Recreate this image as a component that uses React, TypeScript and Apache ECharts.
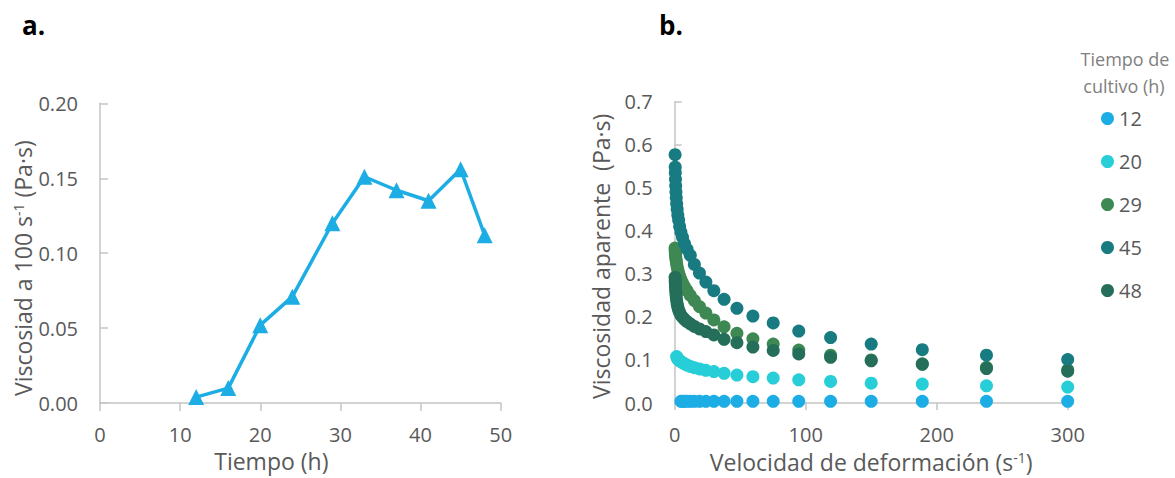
import React, { useEffect, useRef } from "react";
import * as echarts from "echarts";

// ---------- Data: panel a ----------
const HOURS = [12, 16, 20, 24, 29, 33, 37, 41, 45, 48];
const VISC_AT_100 = [0.004, 0.01, 0.052, 0.071, 0.12, 0.151, 0.142, 0.135, 0.156, 0.112];

// ---------- Data: panel b ----------
const SHEAR_RATE = [
  0.3, 0.38, 0.47, 0.6, 0.75, 0.95, 1.19, 1.5, 1.89, 2.38,
  3.0, 3.77, 4.75, 5.97, 7.52, 9.47, 11.9, 15.0, 18.9, 23.8,
  29.9, 37.7, 47.5, 59.7, 75.2, 94.7, 119, 150, 189, 238, 300,
];
const V12 = [
  null, null, null, null, null, null, null, null, null, null,
  null, null, 0.004, 0.004, 0.004, 0.004, 0.004, 0.004, 0.004, 0.004,
  0.004, 0.004, 0.004, 0.004, 0.004, 0.004, 0.004, 0.004, 0.004, 0.004, 0.004,
];
const V20 = [
  null, null, null, null, null, null, null, 0.108, 0.105, 0.102,
  0.1, 0.098, 0.096, 0.094, 0.091, 0.088, 0.085, 0.082, 0.079, 0.076,
  0.073, 0.069, 0.065, 0.061, 0.058, 0.054, 0.05, 0.046, 0.044, 0.04, 0.037,
];
const V29 = [
  0.36, 0.355, 0.35, 0.345, 0.34, 0.335, 0.33, 0.323, 0.316, 0.309,
  0.302, 0.295, 0.287, 0.279, 0.27, 0.261, 0.25, 0.238, 0.224, 0.209,
  0.193, 0.177, 0.162, 0.149, 0.137, 0.123, 0.111, 0.1, 0.091, 0.083, 0.077,
];
const V45 = [
  0.577, 0.548, 0.535, 0.52, 0.505, 0.49, 0.477, 0.463, 0.45, 0.437,
  0.425, 0.41, 0.397, 0.385, 0.37, 0.357, 0.343, 0.322, 0.302, 0.281,
  0.261, 0.241, 0.22, 0.202, 0.186, 0.167, 0.152, 0.137, 0.124, 0.111, 0.101,
];
const V48 = [
  0.292, 0.285, 0.278, 0.27, 0.262, 0.254, 0.246, 0.238, 0.23, 0.223,
  0.216, 0.21, 0.204, 0.199, 0.194, 0.189, 0.184, 0.178, 0.172, 0.166,
  0.158, 0.148, 0.14, 0.13, 0.122, 0.114, 0.106, 0.098, 0.09, 0.08, 0.074,
];
const SERIES_NAMES = ["12", "20", "29", "45", "48"];
const SERIES_VALUES = [V12, V20, V29, V45, V48];
const SERIES_COLORS = ["#1CADE4", "#27CED7", "#3E8853", "#177B81", "#246E5A"];

const FONT = '"Open Sans", sans-serif';
const LBL = "#595959";
const AX = "#C4C4C4";

function pairs(xs: number[], ys: (number | null)[]) {
  const out: number[][] = [];
  ys.forEach((y, i) => {
    if (y !== null) out.push([xs[i], y]);
  });
  return out;
}

function buildOption(): any {
  const axisLine = { show: true, lineStyle: { color: AX, width: 1.5 } };
  const tickStyle = { color: AX, width: 1.5 };
  const labelStyle = { color: LBL, fontSize: 20, fontFamily: FONT };
  const nameStyle = (padding: number[], lineHeight?: number) => ({
    color: LBL,
    fontSize: 23,
    fontFamily: FONT,
    padding,
    ...(lineHeight ? { lineHeight } : {}),
    rich: { sup: { fontSize: 14, color: LBL, fontFamily: FONT, verticalAlign: "top" } },
  });

  return {
    animation: false,
    backgroundColor: "#ffffff",
    grid: [
      { left: 100, top: 103.3, width: 400.7, height: 308.4 },
      { left: 674.7, top: 101.7, width: 393, height: 308.3 },
    ],
    xAxis: [
      {
        type: "value", gridIndex: 0, min: 0, max: 50, interval: 10,
        axisLine, axisTick: { show: true, inside: false, length: 8, lineStyle: tickStyle },
        axisLabel: { ...labelStyle, lineHeight: 18, margin: 22 },
        splitLine: { show: false },
        name: "Tiempo (h)", nameLocation: "middle", nameGap: 40,
        nameTextStyle: nameStyle([0, 58, 0, 0], 24),
      },
      {
        type: "value", gridIndex: 1, min: 0, max: 300, interval: 100,
        axisLine, axisTick: { show: true, inside: false, length: 7, lineStyle: tickStyle },
        axisLabel: { ...labelStyle, margin: 21 },
        splitLine: { show: false },
        name: "Velocidad de deformación (s{sup|-1})", nameLocation: "middle", nameGap: 47,
        nameTextStyle: nameStyle([0, 0, 0, 0]),
      },
    ],
    yAxis: [
      {
        type: "value", gridIndex: 0, min: 0, max: 0.2, interval: 0.05,
        axisLine, axisTick: { show: true, inside: true, length: 8, lineStyle: tickStyle },
        axisLabel: { ...labelStyle, margin: 22, formatter: (v: number) => v.toFixed(2) },
        splitLine: { show: false },
        name: "Viscosiad a 100 s{sup|-1} (Pa·s)", nameLocation: "middle", nameGap: 63,
        nameTextStyle: nameStyle([0, 30, 0, 0]),
      },
      {
        type: "value", gridIndex: 1, min: 0, max: 0.7, interval: 0.1,
        axisLine, axisTick: { show: true, inside: true, length: 7, lineStyle: tickStyle },
        axisLabel: { ...labelStyle, margin: 22, formatter: (v: number) => v.toFixed(1) },
        splitLine: { show: false },
        name: "Viscosidad aparente  (Pa·s)", nameLocation: "middle", nameGap: 62,
        nameTextStyle: nameStyle([0, 8, 0, 0]),
      },
    ],
    legend: {
      data: SERIES_NAMES,
      orient: "vertical",
      left: 1096,
      top: 102.5,
      itemWidth: 13,
      itemHeight: 13,
      itemGap: 21,
      icon: "circle",
      selectedMode: false,
      textStyle: { color: LBL, fontSize: 20, fontFamily: FONT, lineHeight: 22 },
    },
    graphic: [
      { type: "text", left: 22, top: 12, style: { text: "a.", fontSize: 26, fontWeight: "bold", fontFamily: FONT, fill: "#000" } },
      { type: "text", left: 659, top: 12, style: { text: "b.", fontSize: 26, fontWeight: "bold", fontFamily: FONT, fill: "#000" } },
      { type: "text", x: 1125, y: 59, style: { text: "Tiempo de", fontSize: 18, fontFamily: FONT, fill: "#808080", textAlign: "center", textVerticalAlign: "middle" } },
      { type: "text", x: 1124, y: 86, style: { text: "cultivo (h)", fontSize: 18, fontFamily: FONT, fill: "#808080", textAlign: "center", textVerticalAlign: "middle" } },
    ],
    series: [
      {
        type: "line",
        name: "Viscosidad a 100 s-1",
        xAxisIndex: 0,
        yAxisIndex: 0,
        data: pairs(HOURS, VISC_AT_100),
        symbol: "triangle",
        symbolSize: 16,
        lineStyle: { color: "#1CADE4", width: 3.5 },
        itemStyle: { color: "#1CADE4" },
      },
      ...SERIES_NAMES.map((name, i) => ({
        type: "scatter",
        name,
        xAxisIndex: 1,
        yAxisIndex: 1,
        data: pairs(SHEAR_RATE, SERIES_VALUES[i]),
        symbol: "circle",
        symbolSize: 13,
        itemStyle: { color: SERIES_COLORS[i], opacity: 1 },
      })),
    ],
  };
}

export default function App() {
  const ref = useRef<HTMLDivElement>(null);
  useEffect(() => {
    if (!ref.current) return;
    const chart = echarts.init(ref.current, null, { renderer: "svg" });
    chart.setOption(buildOption());
    return () => chart.dispose();
  }, []);
  return (
    <div
      ref={ref}
      style={{ position: "absolute", left: 0, top: 0, width: 1175, height: 478, background: "#fff" }}
    />
  );
}
